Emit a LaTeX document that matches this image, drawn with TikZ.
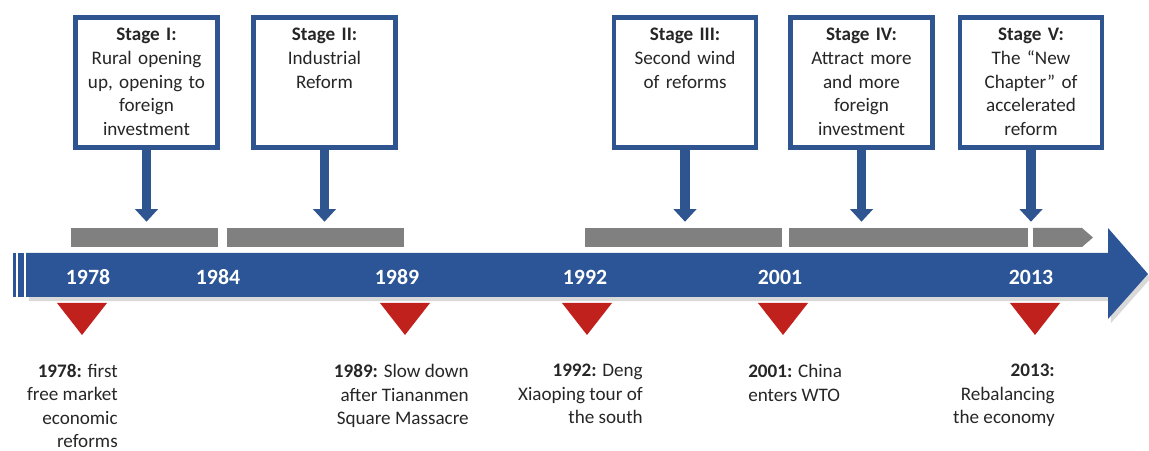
\documentclass[tikz,border=0pt]{standalone}
\usepackage{fontspec}
\setmainfont{Carlito}
\usepackage{xcolor}
\usetikzlibrary{positioning, arrows.meta, shadows}

\definecolor{tlblue}{HTML}{2B5597}
\definecolor{boxblue}{HTML}{2F5590}
\definecolor{bargray}{HTML}{808080}
\definecolor{markred}{HTML}{C1211C}
\definecolor{txtgray}{HTML}{262626}

\begin{document}
\begin{tikzpicture}[x=0.025cm, y=-0.025cm]
            % styles
            \tikzstyle{stagebox} = [rectangle, draw=boxblue, line width=3.2pt, fill=white, minimum width=3.56cm, minimum height=3.26cm, inner sep=0pt]
            \tikzstyle{stagetext} = [align=center, text width=3.4cm, inner sep=0pt, text=txtgray, font=\fontsize{13.6}{17}\selectfont]
            \tikzstyle{stagearrow} = [line width=7pt, draw=boxblue, shorten >=0.15cm, -{Triangle[width=16pt, length=9pt]}]
            \tikzstyle{bar} = [rectangle, fill=bargray, minimum height=0.475cm, inner sep=0pt]
            \tikzstyle{year} = [text=white, font=\fontsize{15.5}{18}\selectfont\bfseries]
            \tikzstyle{note} = [inner sep=0pt, text=txtgray, font=\fontsize{13.6}{16.7}\selectfont]

            \useasboundingbox (0,0) rectangle (1149,451);

            % timeline
            \fill[tlblue, drop shadow={shadow xshift=2pt, shadow yshift=-3pt, opacity=0.3}] (26,253) -- (1108,253) -- (1108,228) -- (1148,274) -- (1108,319) -- (1108,297) -- (26,297) -- cycle;
            \fill[tlblue] (13,253) rectangle (16,297);
            \fill[tlblue] (18,253) rectangle (24,297);

            \foreach \yr/\x in {1978/88, 1984/218, 1989/397, 1992/585, 2001/780, 2013/1031}
                \node[year] (y\yr) at (\x,277) {\yr};

            % periods
            \node (bar1) [bar, minimum width=3.675cm] at (144.5,237.5) {};
            \node (bar2) [bar, minimum width=4.425cm] at (315.5,237.5) {};
            \node (bar3) [bar, minimum width=4.925cm] at (683.5,237.5) {};
            \node (bar4) [bar, minimum width=5.975cm] at (908.5,237.5) {};
            \fill[bargray] (1033,228) -- (1082,228) -- (1093,237.5) -- (1082,247) -- (1033,247) -- cycle;

            % stages
            \node (s1box) [stagebox] at (146.5,82.5) {};
            \node (s2box) [stagebox] at (324.5,82.5) {};
            \node (s3box) [stagebox] at (685,82.5) {};
            \node (s4box) [stagebox] at (861.5,82.5) {};
            \node (s5box) [stagebox] at (1031,82.5) {};

            \node (s1text) [stagetext, below=0.31cm of s1box.north] {\textbf{Stage I:}\\Rural opening\\up, opening to\\foreign\\investment};
            \node (s2text) [stagetext, below=0.31cm of s2box.north] {\textbf{Stage II:}\\Industrial\\Reform};
            \node (s3text) [stagetext, below=0.31cm of s3box.north] {\textbf{Stage III:}\\Second wind\\of reforms};
            \node (s4text) [stagetext, below=0.31cm of s4box.north] {\textbf{Stage IV:}\\Attract more\\and more\\foreign\\investment};
            \node (s5text) [stagetext, below=0.31cm of s5box.north] {\textbf{Stage V:}\\The “New\\Chapter” of\\accelerated\\reform};

            \draw [stagearrow] (s1box.south) -- (s1box.south |- bar1.north);
            \draw [stagearrow] (s2box.south) -- (s2box.south |- bar2.north);
            \draw [stagearrow] (s3box.south) -- (s3box.south |- bar3.north);
            \draw [stagearrow] (s4box.south) -- (s4box.south |- bar4.north);
            \draw [stagearrow] (s5box.south) -- (s5box.south |- bar4.north);

            % events
            \foreach \x in {82, 405, 587, 783, 1035}
                \fill[markred] (\x-25,303) -- (\x+25,303) -- (\x,335) -- cycle;

            \node (e1978) [note, align=right, anchor=north east] at (118,364) {\textbf{1978:} first\\free market\\economic\\reforms};
            \node (e1989) [note, align=right, anchor=north east] at (469,364) {\textbf{1989:} Slow down\\after Tiananmen\\Square Massacre};
            \node (e1992) [note, align=right, anchor=north east] at (643,364) {\textbf{1992:} Deng\\Xiaoping tour of\\the south};
            \node (e2001) [note, align=left, anchor=north west] at (748,364) {\textbf{2001:} China\\enters WTO};
            \node (e2013) [note, align=right, anchor=north east] at (1055,364) {\textbf{2013:}\\Rebalancing\\the economy};
\end{tikzpicture}
\end{document}
